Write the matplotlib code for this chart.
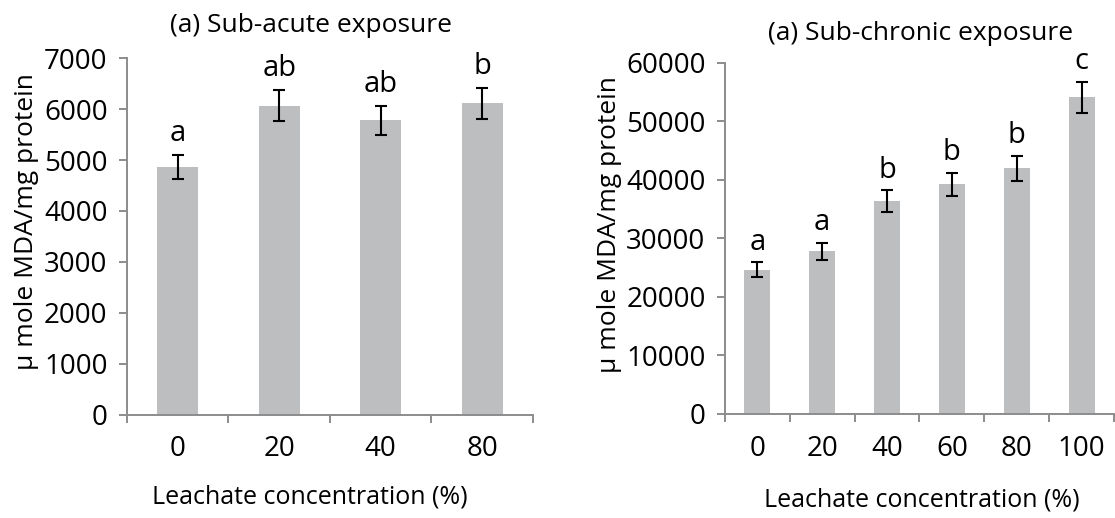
import numpy as np
import matplotlib
matplotlib.use("Agg")
import matplotlib.pyplot as plt

# sub-acute exposure
acute_conc = ['0', '20', '40', '80']
acute_mda = [4860, 6070, 5780, 6120]
acute_err = [240, 300, 285, 305]
acute_letters = ['a', 'ab', 'ab', 'b']

# sub-chronic exposure
chronic_conc = ['0', '20', '40', '60', '80', '100']
chronic_mda = [24650, 27780, 36320, 39230, 41970, 54100]
chronic_err = [1290, 1450, 1850, 1970, 2100, 2650]
chronic_letters = ['a', 'a', 'b', 'b', 'b', 'c']

plt.rcParams['font.family'] = ['Open Sans', 'DejaVu Sans']
bar_col = '#bcbec0'
axis_col = '#8c8c8c'
fs = 20


def barpanel(ax, conc, vals, errs, letters, ymax, ystep, letter_off):
    x = np.arange(len(conc))
    ax.bar(x, vals, 0.4, color=bar_col, zorder=1)
    ax.errorbar(x, vals, yerr=errs, fmt='none', ecolor='black',
                elinewidth=1.5, capsize=4, capthick=1.5, zorder=2)
    for xi, v, e, lab in zip(x, vals, errs, letters):
        ax.annotate(lab, (xi, v + e), xytext=(0, letter_off),
                    textcoords='offset points', ha='center', va='baseline',
                    fontsize=21)
    ax.set_xlim(-0.5, len(conc) - 0.5)
    ax.set_ylim(0, ymax)
    ax.set_yticks(np.arange(0, ymax + 1, ystep))
    ax.set_xticks(x)
    ax.set_xticklabels(conc)
    ax.set_xticks(np.arange(len(conc) + 1) - 0.5, minor=True)
    ax.tick_params(axis='x', which='major', length=0, pad=15, labelsize=fs)
    ax.tick_params(axis='x', which='minor', length=6, width=1.4,
                   color=axis_col, direction='out')
    ax.tick_params(axis='y', length=6, width=1.4, color=axis_col,
                   pad=8, labelsize=fs)
    for s in ['top', 'right']:
        ax.spines[s].set_visible(False)
    for s in ['left', 'bottom']:
        ax.spines[s].set_color(axis_col)
        ax.spines[s].set_linewidth(1.4)


fig = plt.figure(figsize=(11.15, 5.18), dpi=100)
ax1 = fig.add_axes([0.1139, 0.1998, 0.3641, 0.6877])
ax2 = fig.add_axes([0.6502, 0.2008, 0.3489, 0.6782])

barpanel(ax1, acute_conc, acute_mda, acute_err, acute_letters, 7000, 1000, 10)
barpanel(ax2, chronic_conc, chronic_mda, chronic_err, chronic_letters, 60000, 10000, 9)

ylab = '\u03bc mole MDA/mg protein'
xlab = 'Leachate concentration (%)'
fig.text(0.279, 0.9517, '(a) Sub-acute exposure', ha='center', va='center', fontsize=19)
fig.text(0.826, 0.936, '(a) Sub-chronic exposure', ha='center', va='center', fontsize=19)
fig.text(0.024, 0.572, ylab, rotation=90, ha='center', va='center', fontsize=19)
fig.text(0.547, 0.567, ylab, rotation=90, ha='center', va='center', fontsize=19)
fig.text(0.278, 0.0405, xlab, ha='center', va='center', fontsize=18)
fig.text(0.827, 0.035, xlab, ha='center', va='center', fontsize=18)

fig.savefig('out.png', dpi=100)
